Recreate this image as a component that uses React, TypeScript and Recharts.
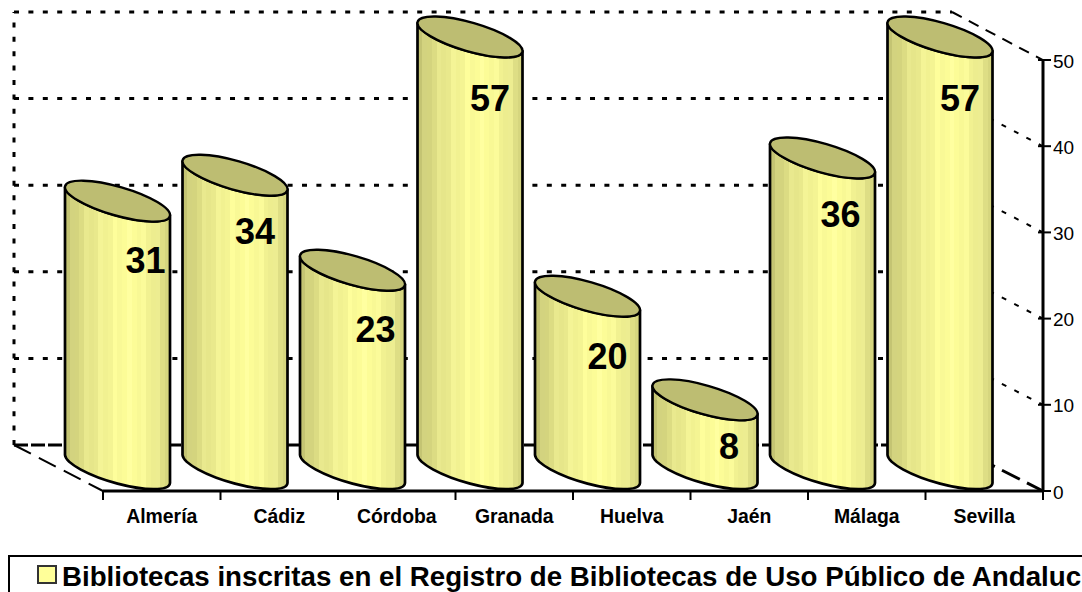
import React from "react";
import { BarChart, Bar, ComposedChart, LabelList, Legend, ReferenceLine, XAxis, YAxis } from "recharts";

const categories = ["Almería", "Cádiz", "Córdoba", "Granada", "Huelva", "Jaén", "Málaga", "Sevilla"];
const libraries = [31, 34, 23, 57, 20, 8, 36, 57];
const seriesName = "Bibliotecas inscritas en el Registro de Bibliotecas de Uso Público de Andalucía";
const valueTicks = [0, 10, 20, 30, 40, 50];
const AXIS_MAX = 50;

// label placement relative to the cylinder (horizontal, vertical), as in the source chart
const labelDx = [28, 20, 23, 20, 20, 24, 18, 20];
const labelDy = [59, 56, 59, 61, 60, 47, 57, 61];

const rows = categories.map((category, i) => ({
  category,
  libraries: libraries[i],
  drawn: Math.min(libraries[i], AXIS_MAX),
}));

const W = 1082;
const H = 592;
const FONT = '"Liberation Sans", Arial, sans-serif';

// 3D frame: back wall 14..952 / 12..445, front 103..1043 / 60..491
const WALL_END = (952 - 14) / (1043 - 14);
const FLOOR_START = (103 - 14) / (1043 - 14);
const FRONT_MIN = (445 - 491) / 8.66;
const frontValue = (t: number) => FRONT_MIN + t * 0.995;
const BAND_WIDTH = (1043 - 103) / categories.length;

const RX = 54.5;
const RY = 14.4;
const TILT = 16.1;
const SLOPE = 14;

const bandStops: [number, number[]][] = [
  [0, [192, 192, 112]],
  [0.18, [224, 224, 134]],
  [0.4, [242, 242, 146]],
  [0.62, [255, 255, 153]],
  [0.85, [236, 236, 143]],
  [1, [210, 210, 124]],
];
function bandColor(t: number, lift: number) {
  for (let i = 1; i < bandStops.length; i++) {
    if (t <= bandStops[i][0]) {
      const [t0, c0] = bandStops[i - 1];
      const [t1, c1] = bandStops[i];
      const f = (t - t0) / (t1 - t0);
      const rgb = c0.map((c, k) => Math.min(255, Math.round(c + (c1[k] - c) * f + lift)));
      return `rgb(${rgb.join(",")})`;
    }
  }
  return "rgb(210,210,124)";
}
const BANDS = 22;

function Cylinder(props: any) {
  const { x, y, width, height, index } = props;
  const cx = x + width / 2;
  const L = cx - 52.5;
  const R = cx + 52.5;
  const yb = y + height;
  const d = `M${L},${y - SLOPE} L${L},${yb - SLOPE} A${RX},${RY} ${TILT} 0 0 ${R},${yb + SLOPE} L${R},${y + SLOPE} A${RX},${RY} ${TILT} 0 1 ${L},${y - SLOPE} Z`;
  return (
    <g key={index}>
      <path d={d} fill="url(#cylBody)" stroke="#000" strokeWidth={2.7} strokeLinejoin="round" />
      <ellipse cx={cx} cy={y} rx={RX} ry={RY} transform={`rotate(${TILT} ${cx} ${y})`} fill="#BDBD72" stroke="#000" strokeWidth={2.4} />
    </g>
  );
}

function ValueLabel(props: any) {
  const { x, y, width, value, index } = props;
  return (
    <text x={x + width / 2 + labelDx[index]} y={y + labelDy[index]} textAnchor="middle" dominantBaseline="central" fontFamily={FONT} fontWeight={700} fontSize={36} fill="#000">
      {value}
    </text>
  );
}

function ValueTick(props: any) {
  const { x, y, payload } = props;
  return (
    <g>
      <line x1={x - 5} x2={x + 8} y1={y} y2={y} stroke="#000" strokeWidth={2} />
      <text x={x + 10} y={y + 1} dominantBaseline="central" fontFamily={FONT} fontSize={19} fill="#000">
        {payload.value}
      </text>
    </g>
  );
}

function CategoryTick(props: any) {
  const { x, payload, index } = props;
  const left = x - BAND_WIDTH / 2;
  const right = x + BAND_WIDTH / 2;
  return (
    <g>
      <line x1={left} x2={left} y1={491} y2={500} stroke="#000" strokeWidth={2} />
      {index === categories.length - 1 && <line x1={right} x2={right} y1={491} y2={500} stroke="#000" strokeWidth={2} />}
      <text x={x} y={516} textAnchor="middle" dominantBaseline="central" fontFamily={FONT} fontWeight={700} fontSize={19.4} fill="#000">
        {payload.value}
      </text>
    </g>
  );
}

function LegendBox(props: any) {
  const name = props.payload?.[0]?.value;
  return (
    <div style={{ boxSizing: "border-box", width: 1200, height: 60, border: "2.5px solid #000", position: "relative", fontFamily: FONT, background: "#fff" }}>
      <span style={{ position: "absolute", left: 27, top: 8, width: 16, height: 15, background: "#FFFF99", border: "2px solid #333" }} />
      <span style={{ position: "absolute", left: 52, top: 2, fontWeight: 700, fontSize: 27.7, whiteSpace: "nowrap", color: "#000", lineHeight: "36px" }}>{name}</span>
    </div>
  );
}

const layer: React.CSSProperties = { position: "absolute", left: 0, top: 0 };

export default function App() {
  return (
    <div style={{ position: "absolute", left: 0, top: 0, width: W, height: H, overflow: "hidden", background: "#fff" }}>
      <div style={layer}>
        <ComposedChart width={W} height={H} data={rows} margin={{ left: 14, right: 39, top: 12, bottom: 101 }}>
          <XAxis type="number" dataKey="drawn" domain={[0, 1]} allowDataOverflow hide />
          <YAxis type="number" domain={[FRONT_MIN, AXIS_MAX]} allowDataOverflow hide />
          {valueTicks.map((t) => (
            <ReferenceLine
              key={`wall${t}`}
              segment={[{ x: 0, y: t }, { x: WALL_END, y: t }]}
              stroke="#000"
              strokeWidth={3}
              strokeDasharray={t === 0 ? "14 3" : "5 9.4"}
              ifOverflow="visible"
            />
          ))}
          {valueTicks.map((t) => (
            <ReferenceLine
              key={`depth${t}`}
              segment={[{ x: WALL_END, y: t }, { x: 1, y: frontValue(t) }]}
              stroke="#000"
              strokeWidth={t === 0 ? 3 : 2}
              strokeDasharray={t === 0 ? "20 8" : t === 50 ? "11 8" : "5 9"}
              ifOverflow="visible"
            />
          ))}
          <ReferenceLine segment={[{ x: 0, y: 0 }, { x: 0, y: AXIS_MAX }]} stroke="#000" strokeWidth={3} strokeDasharray="5 9.4" ifOverflow="visible" />
          <ReferenceLine segment={[{ x: 0, y: 0 }, { x: FLOOR_START, y: FRONT_MIN }]} stroke="#000" strokeWidth={2} strokeDasharray="19 9" ifOverflow="visible" />
        </ComposedChart>
      </div>
      <div style={layer}>
        <BarChart width={W} height={H} data={rows} margin={{ left: 103, right: 0, top: 60, bottom: 61 }}>
          <XAxis
            dataKey="category"
            interval={0}
            axisLine={{ stroke: "#000", strokeWidth: 3 }}
            tickLine={false}
            tickSize={0}
            height={40}
            tick={<CategoryTick />}
          />
          <YAxis
            orientation="right"
            domain={[0, AXIS_MAX]}
            ticks={valueTicks}
            axisLine={{ stroke: "#000", strokeWidth: 3 }}
            tickLine={false}
            tickSize={0}
            tickMargin={0}
            tick={<ValueTick />}
            width={39}
          />
          <Bar dataKey="drawn" fill="none" shape={() => null} isAnimationActive={false} legendType="none" />
        </BarChart>
      </div>
      <div style={layer}>
        <BarChart width={W} height={H} data={rows} margin={{ left: 59, right: 83, top: 37, bottom: 123 }}>
          <defs>
            <linearGradient id="cylBody" x1="0" x2="1" y1="0" y2="0">
              {Array.from({ length: BANDS }).flatMap((_, i) => {
                const c = bandColor((i + 0.5) / BANDS, i % 3 === 1 ? 7 : 0);
                return [
                  <stop key={`a${i}`} offset={i / BANDS} stopColor={c} />,
                  <stop key={`b${i}`} offset={(i + 1) / BANDS} stopColor={c} />,
                ];
              })}
            </linearGradient>
          </defs>
          <XAxis dataKey="category" hide />
          <YAxis domain={[0, AXIS_MAX]} hide />
          <Legend verticalAlign="middle" layout="horizontal" wrapperStyle={{ left: 8, top: 555, width: 1200, bottom: "auto", right: "auto" }} content={<LegendBox />} />
          <Bar dataKey="drawn" name={seriesName} fill="#FFFF99" barSize={105} shape={<Cylinder />} isAnimationActive={false}>
            <LabelList dataKey="libraries" content={<ValueLabel />} />
          </Bar>
        </BarChart>
      </div>
    </div>
  );
}
